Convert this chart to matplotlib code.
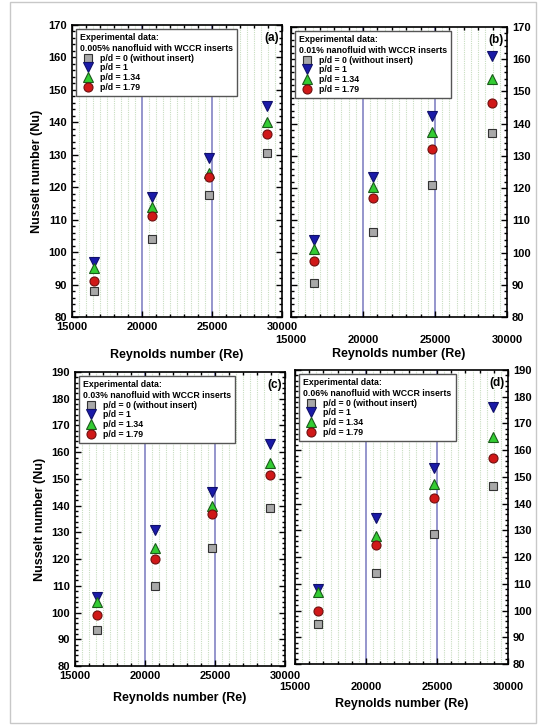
import matplotlib
matplotlib.use('Agg')
import matplotlib.pyplot as plt
from matplotlib.patches import Rectangle
from matplotlib.ticker import MultipleLocator
import numpy as np

plt.rcParams['font.family'] = ['Liberation Sans', 'DejaVu Sans']
plt.rcParams['font.weight'] = 'bold'

re = [16600, 20700, 24800, 28950]
labels = ['p/d = 0 (without insert)', 'p/d = 1', 'p/d = 1.34', 'p/d = 1.79']
concs = ['0.005%', '0.01%', '0.03%', '0.06%']
tags = ['(a)', '(b)', '(c)', '(d)']

nu_a = [[88, 104, 117.5, 130.5], [97, 117, 129, 145], [95, 114, 124.5, 140], [91, 111, 123, 136.5]]
nu_b = [[90.5, 106.5, 121, 137], [104, 123.5, 142.5, 161], [101, 120.5, 137.5, 154], [97.5, 117, 132, 146.5]]
nu_c = [[93.5, 110, 124, 139], [106, 131, 145, 163], [104, 124, 140, 156], [99, 120, 137, 151.5]]
nu_d = [[95, 114, 128.5, 146.5], [108, 134.5, 153.5, 176], [107, 128, 147.5, 165], [100, 124.5, 142, 157]]

STYLES = [dict(marker='s', mfc='#a8a8a8', mec='#333333', ms=5.5),
          dict(marker='v', mfc='#1a1aa8', mec='#10106a', ms=7),
          dict(marker='^', mfc='#33cc33', mec='#1a5a1a', ms=7),
          dict(marker='o', mfc='#d01818', mec='#701010', ms=6.5)]

W, H = 538, 725
fig = plt.figure(figsize=(W / 100, H / 100), dpi=100)
fig.patches.append(Rectangle((10 / W, 2 / H), 526 / W, 721 / H, transform=fig.transFigure,
                             fill=False, ec='#c8c8c8', lw=1))

# pixel boxes: left, top, right, bottom
boxes = [(72, 25, 282, 317), (291, 27, 507, 317), (75, 372, 285, 666), (295, 370, 508, 664)]
ylims = [(80, 170), (80, 170), (80, 190), (80, 190)]
data = [nu_a, nu_b, nu_c, nu_d]
xlabel_pads = [12, 2, 8, 4]

for i, (l, t, r, b) in enumerate(boxes):
    ax = fig.add_axes([l / W, 1 - b / H, (r - l) / W, (b - t) / H])
    ax.set_xlim(15000, 30000)
    ax.set_ylim(*ylims[i])
    for x in np.arange(15500, 30000, 500):
        if x % 5000 == 0:
            ax.axvline(x, color='#8c8cc8', lw=1.3, zorder=0)
        else:
            ax.axvline(x, color='#c8ddc0', lw=0.8, ls=(0, (1, 1)), zorder=0)
    for j in range(4):
        ax.plot(re, data[i][j], ls='none', mew=0.8, label=labels[j], **STYLES[j])
    ax.xaxis.set_major_locator(MultipleLocator(5000))
    ax.xaxis.set_minor_locator(MultipleLocator(1000))
    ax.yaxis.set_major_locator(MultipleLocator(10))
    ax.yaxis.set_minor_locator(MultipleLocator(2))
    ax.tick_params(which='both', direction='in', top=True, right=True, labelsize=8, width=1)
    ax.tick_params(which='major', length=4)
    ax.tick_params(which='minor', length=2)
    for s in ax.spines.values():
        s.set_linewidth(1.2)
    if i in (1, 3):
        ax.yaxis.tick_right()
        ax.tick_params(which='both', left=True, labelleft=False, labelright=True)
        ax.tick_params(axis='x', pad=13)
    else:
        ax.set_ylabel('Nusselt number (Nu)', fontsize=9, fontweight='bold', labelpad=4)
    ax.set_xlabel('Reynolds number (Re)', fontsize=9, fontweight='bold', labelpad=xlabel_pads[i])
    ax.text(0.985, 0.975, tags[i], transform=ax.transAxes, ha='right', va='top',
            fontsize=8.5, fontweight='bold')
    leg = ax.legend(loc='upper left', title=f'Experimental data:\n{concs[i]} nanofluid with WCCR inserts',
                    fontsize=6.3, title_fontsize=6.3, alignment='left', frameon=True, fancybox=False,
                    edgecolor='#555555', framealpha=1, handletextpad=0.5, labelspacing=0.1,
                    borderpad=0.45, handlelength=1.8, markerscale=1.0, borderaxespad=0.5)
    leg.get_title().set_fontweight('bold')
    leg.get_frame().set_linewidth(1)
    for tx in leg.get_texts():
        tx.set_fontweight('bold')

fig.savefig('out.png', dpi=100)
